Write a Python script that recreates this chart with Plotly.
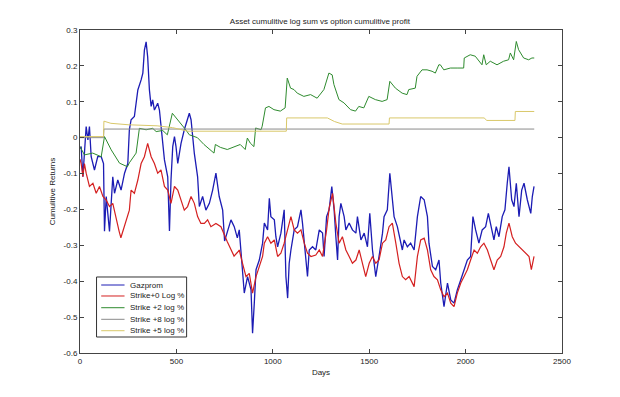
import plotly.graph_objects as go

# ---------------- data ----------------
gaz_x = [0, 6, 15, 23, 32, 41, 49, 58, 75, 92, 110, 122, 127, 136, 153, 170, 179, 196, 213, 231, 248, 256, 265, 282, 300,
         317, 326, 334, 343, 351, 360, 369, 377, 386, 403, 412, 420, 429, 438, 455, 464, 472, 481, 490, 498, 507, 524, 541,
         558, 567, 576, 593, 610, 619, 636, 653, 671, 688, 705, 722, 740, 750, 783, 800, 816,
         826, 852, 869, 887, 895, 904, 913, 930, 947, 956, 973, 982, 990, 1008, 1016, 1025, 1042, 1059, 1068, 1077, 1085,
         1094, 1111, 1128, 1146, 1154, 1172, 1180, 1189, 1206, 1223, 1241, 1258, 1266, 1279, 1292, 1306, 1318, 1327, 1336,
         1344, 1353, 1370, 1379, 1396, 1413, 1431, 1439, 1457, 1474, 1491, 1503, 1517, 1534, 1551, 1569, 1577, 1594, 1607,
         1617, 1629, 1646, 1664,
         1672, 1681, 1698, 1715, 1733, 1750, 1767, 1785, 1802, 1810, 1828, 1845, 1862, 1871, 1888, 1906, 1923, 1940, 1957,
         1975, 1992, 2009, 2026, 2038, 2052, 2069, 2086, 2104, 2118, 2130, 2147, 2159, 2173, 2190, 2204, 2216, 2225, 2239,
         2251, 2263, 2277, 2291, 2303, 2320, 2338, 2346, 2355]
gaz_y = [-0.030, -0.025, -0.109, -0.053, 0.031, -0.006, 0.031, -0.053, -0.090, -0.053, -0.053, -0.072, -0.261, -0.164,
         -0.261, -0.109, -0.155, -0.118, -0.146, -0.099, -0.072, 0.022, 0.050, 0.059, 0.133,
         0.161, 0.180, 0.244, 0.267, 0.225, 0.133, 0.087, 0.105, 0.077, 0.096, 0.077, 0.031, -0.006, -0.062, -0.109, -0.260,
         -0.118, -0.025, 0.003, -0.025, -0.072, -0.016, 0.022, 0.050, 0.068, 0.050, -0.044, -0.109, -0.192, -0.164, -0.202,
         -0.183, -0.146, -0.099, -0.164, -0.202, -0.288, -0.229, -0.248, -0.279,
         -0.257, -0.433, -0.387, -0.424, -0.545, -0.461, -0.368, -0.341, -0.294, -0.238, -0.257, -0.169, -0.220, -0.229,
         -0.276, -0.304, -0.266, -0.201, -0.387, -0.447, -0.350,
         -0.313, -0.257, -0.248, -0.201, -0.238, -0.350, -0.387, -0.313, -0.304, -0.313, -0.257, -0.266, -0.331, -0.220,
         -0.201, -0.136, -0.201, -0.276, -0.341,
         -0.220, -0.183, -0.220, -0.257, -0.238, -0.257, -0.266, -0.220, -0.285, -0.266, -0.304, -0.211, -0.313, -0.387,
         -0.331, -0.266, -0.220, -0.201, -0.099,
         -0.164, -0.220, -0.248, -0.294,
         -0.313, -0.285, -0.304, -0.294, -0.313, -0.220, -0.164, -0.173, -0.220, -0.294, -0.359, -0.368, -0.341, -0.405,
         -0.471, -0.405, -0.452, -0.461, -0.424,
         -0.396, -0.368, -0.341, -0.331, -0.220, -0.257, -0.294, -0.257, -0.248, -0.211, -0.238, -0.285, -0.248, -0.276,
         -0.220, -0.201, -0.127, -0.081, -0.173,
         -0.192, -0.127, -0.220, -0.146, -0.127, -0.173, -0.211, -0.164, -0.136]

s0_x = [0, 6, 15, 23, 32, 49, 67, 84, 101, 119, 136, 153, 170, 188, 203, 212, 229, 256, 265, 282, 300, 317, 334, 351, 369,
        386, 403, 420, 438, 455, 472, 490, 507, 524, 541, 558, 576, 593, 610, 627, 645, 662, 679, 705, 731, 764, 781, 799,
        816,
        826, 843, 861, 878, 895, 913, 930, 947, 956, 973, 990, 1008, 1025, 1042, 1059, 1077, 1094, 1111, 1128, 1146, 1163,
        1180, 1198, 1223, 1241, 1258, 1279, 1292, 1310, 1327, 1344, 1361, 1379, 1396, 1413, 1431, 1448, 1465, 1482, 1500,
        1517, 1534, 1551, 1569, 1586, 1603, 1620, 1638, 1655, 1672,
        1689, 1707, 1733, 1750, 1767, 1785, 1802, 1819, 1836, 1854, 1871, 1888, 1906, 1923, 1940, 1957, 1975, 1992, 2009,
        2026, 2044, 2061, 2078, 2095, 2113, 2130, 2147, 2164, 2182, 2199, 2211, 2225, 2242, 2259, 2277, 2294, 2311, 2329,
        2341, 2355]
s0_y = [-0.060, -0.072, -0.109, -0.072, -0.099, -0.136, -0.127, -0.155, -0.136, -0.164, -0.174, -0.192, -0.183, -0.229,
        -0.261, -0.279, -0.251, -0.202, -0.146, -0.155, -0.118, -0.072, -0.053, -0.016, -0.053,
        -0.072, -0.099, -0.090, -0.136, -0.146, -0.183, -0.136, -0.146, -0.174, -0.202, -0.192, -0.164, -0.183, -0.220,
        -0.239, -0.239, -0.229, -0.248, -0.239, -0.248, -0.290, -0.310, -0.330,
        -0.320,
        -0.313, -0.350, -0.387, -0.378, -0.433, -0.387, -0.359, -0.331, -0.294, -0.276, -0.294, -0.285, -0.331, -0.322,
        -0.294, -0.257, -0.220, -0.257, -0.266, -0.257, -0.294,
        -0.322, -0.331, -0.327, -0.313, -0.331, -0.257, -0.197, -0.155, -0.238, -0.294, -0.276, -0.313, -0.331, -0.350,
        -0.341, -0.313, -0.350, -0.387, -0.350,
        -0.331, -0.350, -0.341, -0.294, -0.285, -0.248, -0.238, -0.294, -0.350, -0.387,
        -0.396, -0.387, -0.415, -0.331, -0.285, -0.280, -0.313, -0.368, -0.387, -0.396, -0.424, -0.443, -0.433, -0.461,
        -0.471, -0.433, -0.405, -0.387, -0.368,
        -0.341, -0.313, -0.322, -0.304, -0.294, -0.313, -0.341, -0.368, -0.341, -0.331, -0.304, -0.266, -0.238, -0.276,
        -0.294, -0.304, -0.313, -0.322, -0.331,
        -0.368, -0.331]

s2_x = [0, 23, 66, 110, 127, 162, 205, 246, 256, 291, 308, 343, 377, 395, 429, 453, 479, 515, 550, 567,
        609, 643, 676, 695, 702, 728, 764, 799, 831, 857, 868, 883, 902, 911, 939, 945, 962, 980, 1006, 1039, 1064,
        1075, 1092, 1110, 1127, 1161, 1196, 1230, 1265, 1291, 1308, 1317, 1343, 1369, 1403, 1429, 1446, 1472, 1498,
        1532, 1567, 1593, 1607, 1636, 1671, 1696, 1705, 1739, 1748, 1774, 1800, 1826, 1843, 1861, 1869, 1887, 1921,
        1956, 1990, 1993, 2024, 2050, 2068, 2085, 2094, 2107, 2128, 2163, 2197, 2223, 2232, 2249, 2263, 2275, 2301,
        2327, 2344, 2356]
s2_y = [-0.025, -0.048, -0.043, -0.053, 0.003, -0.034, -0.071, -0.081, -0.070, -0.043, 0.026, 0.022, 0.026, 0.017, 0.020,
        0.008, 0.068, 0.045, 0.021, 0.008,
        0.000, -0.019, -0.033, -0.043, -0.019, -0.027, -0.033, -0.025, -0.019, -0.033, -0.001, -0.015, -0.025, 0.027, 0.022,
        0.032, 0.083, 0.087, 0.078, 0.074, 0.083,
        0.166, 0.138, 0.134, 0.124, 0.115, 0.120, 0.110, 0.134, 0.180, 0.175, 0.148, 0.106, 0.097, 0.078, 0.074, 0.087, 0.083,
        0.115, 0.106, 0.101, 0.106, 0.157, 0.138, 0.124, 0.120, 0.134, 0.138, 0.171, 0.189, 0.189, 0.185, 0.180, 0.203, 0.203,
        0.189, 0.194, 0.194, 0.194, 0.222, 0.231, 0.227, 0.213, 0.203, 0.231, 0.203, 0.213, 0.203, 0.213, 0.217, 0.236, 0.217,
        0.268, 0.245, 0.222, 0.217, 0.222, 0.222]

s8_x = [0, 122, 124, 2356]
s8_y = [0.000, 0.000, 0.024, 0.024]

s5_x = [0, 122, 124, 160, 250, 400, 480, 560, 1070, 1072, 1283, 1320, 1360, 1603, 1605, 2096, 2110, 2256, 2258, 2356]
s5_y = [0.003, 0.003, 0.046, 0.040, 0.036, 0.033, 0.028, 0.018, 0.018, 0.055, 0.055, 0.045, 0.038, 0.038, 0.055, 0.055,
        0.048, 0.048, 0.073, 0.073]

names = ["Gazprom", "Strike+0 Log %", "Strike +2 log %", "Strike +8 log %", "Strike +5 log %"]
colors = ["#1c1cb4", "#d42020", "#2e8b2e", "#8a8a8a", "#d9c86a"]
y_ticks = [-0.6, -0.5, -0.4, -0.3, -0.2, -0.1, 0, 0.1, 0.2, 0.3]
y_tick_text = ["-0.6", "-0.5", "-0.4", "-0.3", "-0.2", "-0.1", "0", "0.1", "0.2", "0.3"]
x_ticks = [0, 500, 1000, 1500, 2000, 2500]

# ---------------- figure ----------------
series = [(gaz_x, gaz_y, 1.3), (s0_x, s0_y, 1.2), (s2_x, s2_y, 1.0), (s8_x, s8_y, 1.0), (s5_x, s5_y, 1.0)]
fig = go.Figure()
for (xs, ys, w), nm, col in zip(series, names, colors):
    fig.add_trace(go.Scatter(x=xs, y=ys, mode="lines", name=nm, line=dict(color=col, width=w), showlegend=False))

FAM = "Liberation Sans, Arial, sans-serif"
fnt = dict(family=FAM, size=8, color="#222")

# MATLAB-style compact legend box (drawn in paper coordinates)
shapes = [dict(type="rect", xref="paper", yref="paper", x0=0.0343, x1=0.2212, y0=0.0495, y1=0.2353,
               line=dict(color="#333", width=1), fillcolor="white", layer="above")]
annotations = []
row_y = [0.2105, 0.1765, 0.1402, 0.1043, 0.069]
for nm, col, ry in zip(names, colors, row_y):
    shapes.append(dict(type="line", xref="paper", yref="paper", x0=0.044, x1=0.0924, y0=ry, y1=ry,
                       line=dict(color=col, width=1), layer="above"))
    annotations.append(dict(xref="paper", yref="paper", x=0.0987, y=ry, xanchor="left", yanchor="middle",
                            text=nm, showarrow=False, font=fnt))

fig.update_layout(
    width=620, height=397,
    margin=dict(l=72, r=66, t=22, b=52),
    paper_bgcolor="white", plot_bgcolor="white",
    font=fnt,
    title=dict(text="Asset cumulitive log sum vs option cumulitive profit", x=0.503, xanchor="center",
               y=1 - 13 / 397, yanchor="middle", font=fnt),
    showlegend=False,
    shapes=shapes,
    annotations=annotations,
)
fig.update_xaxes(range=[0, 2500], tickvals=x_ticks, showgrid=False, zeroline=False, showline=True, linecolor="#444",
                 linewidth=1, mirror="ticks", ticks="inside", ticklen=4, tickcolor="#444",
                 title=dict(text="Days", standoff=4, font=fnt))
fig.update_yaxes(range=[-0.6, 0.3], tickvals=y_ticks, ticktext=y_tick_text, showgrid=False, zeroline=False, showline=True,
                 linecolor="#444", linewidth=1, mirror="ticks", ticks="inside", ticklen=4, tickcolor="#444",
                 title=dict(text="Cumulitive Returns", standoff=6, font=fnt))

fig.write_html("out.html")
